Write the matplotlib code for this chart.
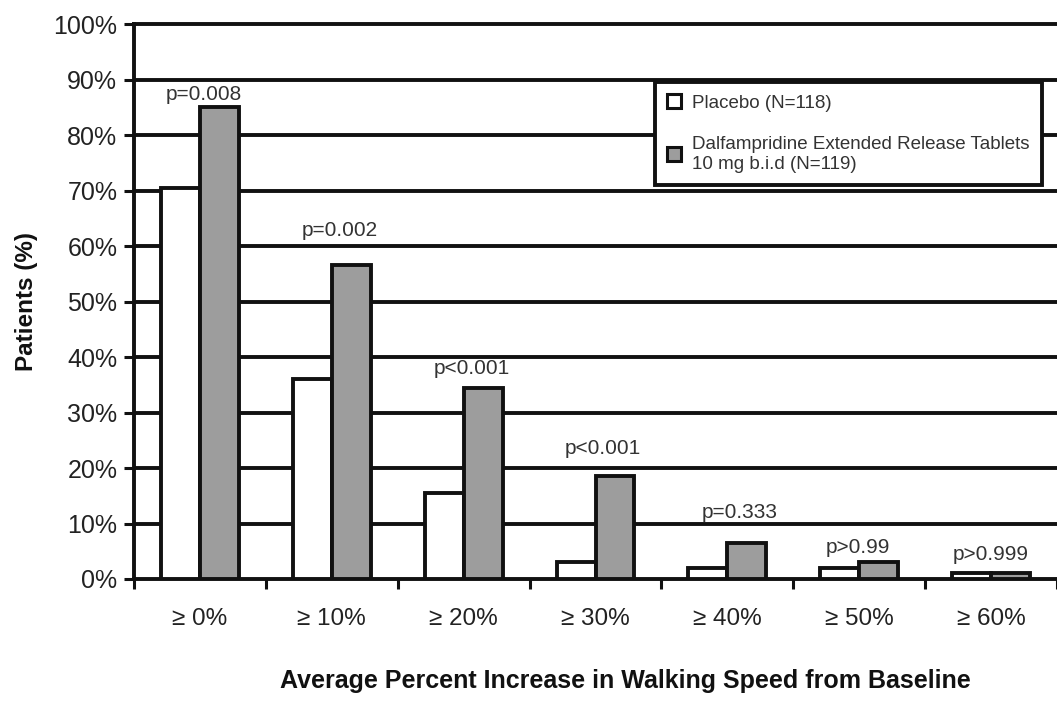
'''
Walking speed responders: placebo vs dalfampridine, grouped bars
'''

# Imports
import numpy as np
import matplotlib
matplotlib.use('Agg')
import matplotlib.pyplot as plt
from matplotlib.ticker import FixedLocator, PercentFormatter

# Data
categories = ['≥ 0%', '≥ 10%', '≥ 20%', '≥ 30%', '≥ 40%', '≥ 50%', '≥ 60%']
placebo = [70.5, 36, 15.5, 3, 2, 2, 1]
drug = [85, 56.5, 34.5, 18.5, 6.5, 3, 1]
pvalues = ['p=0.008', 'p=0.002', 'p<0.001', 'p<0.001', 'p=0.333', 'p>0.99', 'p>0.999']
legend_labels = ['Placebo (N=118)',
                 'Dalfampridine Extended Release Tablets\n10 mg b.i.d (N=119)']

# Layout (label offsets in points above the taller bar)
p_dy = [9, 25, 14, 20, 22, 11, 14]
p_dx = [3, 6, 6, 5, 9, -1, 0]

FONT = ['Liberation Sans', 'DejaVu Sans']
plt.rcParams['font.family'] = FONT
LW = 2.8

fig = plt.figure(figsize=(10.57, 7.02), dpi=100)
ax = fig.add_axes([134 / 1057, 123 / 702, 923 / 1057, 555 / 702])

x = np.arange(len(categories))
w = 0.295
ax.bar(x - w / 2, placebo, w, color='white', edgecolor='#111111',
       linewidth=LW, zorder=3, label=legend_labels[0])
ax.bar(x + w / 2, drug, w, color='#9d9d9d', edgecolor='#111111',
       linewidth=LW, zorder=3, label=legend_labels[1])

# p-value labels
for i, p in enumerate(pvalues):
    ax.annotate(p, (x[i], max(placebo[i], drug[i])), xytext=(p_dx[i], p_dy[i]),
                textcoords='offset points', ha='center', va='center',
                fontsize=15, color='#333333')

ax.set_xlim(-0.5, len(categories) - 0.5)
ax.set_ylim(0, 100)

# Grid
for g in range(10, 100, 10):
    ax.axhline(g, color='#111111', linewidth=LW, zorder=1)

ax.yaxis.set_major_locator(FixedLocator(range(0, 101, 10)))
ax.yaxis.set_major_formatter(PercentFormatter(decimals=0))
ax.tick_params(axis='y', direction='out', length=7, width=2.2,
               labelsize=18, pad=5, colors='#111111', labelcolor='#222222')

ax.set_xticks(x)
ax.set_xticklabels(categories)
ax.set_xticks(np.arange(-0.5, len(categories)), minor=True)
ax.tick_params(axis='x', which='major', length=0, labelsize=17.5, pad=21,
               labelcolor='#222222')
ax.tick_params(axis='x', which='minor', direction='out', length=7,
               width=2.2, colors='#111111')

for s in ['left', 'bottom', 'top']:
    ax.spines[s].set_linewidth(LW)
    ax.spines[s].set_color('#111111')
ax.spines['right'].set_visible(False)

ax.set_ylabel('Patients (%)', fontsize=17.5, fontweight='bold', color='#111111')
ax.yaxis.label.set_va('center')
ax.yaxis.set_label_coords((27 - 134) / 923, 0.5)
ax.set_xlabel('Average Percent Increase in Walking Speed from Baseline',
              fontsize=18, fontweight='bold', color='#111111')
ax.xaxis.label.set_va('center')
ax.xaxis.set_label_coords((625 - 134) / 923, -(681 - 579) / 555)

leg = ax.legend(loc='upper left', bbox_to_anchor=((655 - 134) / 923, (579 - 82) / 555),
                fontsize=13.5, frameon=True, fancybox=False, framealpha=1,
                handlelength=0.75, handleheight=0.75, handletextpad=0.6,
                borderpad=0.65, labelspacing=1.3, borderaxespad=0)
leg.get_frame().set_edgecolor('#111111')
leg.get_frame().set_linewidth(LW)
leg.set_zorder(5)
for t in leg.get_texts():
    t.set_color('#333333')
for h in leg.legend_handles:
    h.set_linewidth(2.2)

fig.savefig('out.png', dpi=100)
